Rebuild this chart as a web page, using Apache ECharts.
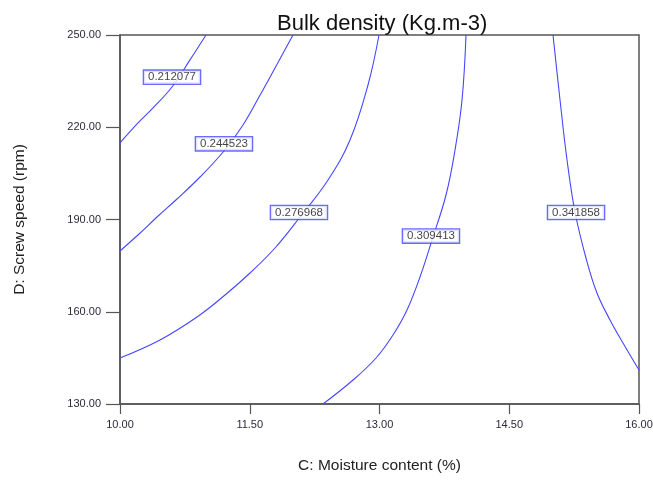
<!DOCTYPE html>
<html>
<head>
<meta charset="utf-8">
<script src="https://cdn.jsdelivr.net/npm/echarts@6/dist/echarts.min.js"></script>
<style>html,body{margin:0;padding:0;background:#fff;overflow:hidden}#c{width:653px;height:488px}</style>
</head>
<body>
<div id="c"></div>
<script>
const titleText = 'Bulk density (Kg.m-3)';
const xName = 'C: Moisture content (%)';
const yName = 'D: Screw speed (rpm)';
const xTicks = [10, 11.5, 13, 14.5, 16];
const yTicks = [130, 160, 190, 220, 250];

const levels = ['0.212077', '0.244523', '0.276968', '0.309413', '0.341858'];

const contour1 = [[10.994,250],[10.809,241.9],[10.601,233.1],[10.382,226.3],[10.208,221.4],[10,214.9]];
const contour2 = [[12.0,250],[11.792,239.27],[11.607,229.84],[11.422,220.73],[11.202,212.28],[10.925,203.82],[10.659,196.67],[10.428,190.81],[10.220,185.28],[10,179.76]];
const contour3 = [[12.994,250],[12.867,233.74],[12.659,215.85],[12.405,202.85],[12.081,190.81],[11.792,180.73],[11.503,172.60],[11.214,165.45],[10.890,158.29],[10.462,150.81],[10,144.96]];
const contour4 = [[14.0,250],[13.954,228.86],[13.873,212.60],[13.769,197.97],[13.607,183.33],[13.468,171.30],[13.318,160.57],[13.156,152.44],[12.960,144.96],[12.694,137.80],[12.347,130]];
const contour5 = [[15.006,250],[15.087,228.86],[15.168,209.35],[15.260,192.44],[15.387,177.48],[15.514,166.10],[15.665,157.32],[15.815,149.84],[16.0,141.06]];

const labelX = [10.601, 11.202, 12.069, 13.595, 15.272];
const labelY = [236.3, 214.6, 192.3, 184.6, 192.3];

const contours = [contour1, contour2, contour3, contour4, contour5];
const lineColor = '#4646ff';
const axisColor = '#555';
const tickFont = {fontFamily: 'Liberation Sans, Arial, sans-serif', fontSize: 11, color: '#2a2a3a'};

const series = contours.map((c, i) => ({
  type: 'line', name: levels[i], data: c, smooth: 0.4, showSymbol: false, silent: true,
  lineStyle: {color: lineColor, width: 1.1}, z: 2
}));
series.push({
  type: 'scatter', symbolSize: 0, z: 5, silent: true,
  data: levels.map((l, i) => [labelX[i], labelY[i], l]),
  label: {
    show: true, position: 'inside', formatter: p => p.data[2],
    fontFamily: 'Liberation Sans, Arial, sans-serif', fontSize: 11.5, color: '#111',
    backgroundColor: '#fff', borderColor: lineColor, borderWidth: 1.3, padding: [1, 4, 0, 4]
  }
});

const chart = echarts.init(document.getElementById('c'), null, {renderer: 'canvas', width: 653, height: 488});
chart.setOption({
  animation: false,
  backgroundColor: '#fff',
  title: {
    text: titleText, left: 272, top: 8,
    textStyle: {fontFamily: 'Liberation Sans, Arial, sans-serif', fontSize: 22, fontWeight: 'normal', color: '#111'}
  },
  grid: {left: 120, right: 14, top: 35, bottom: 84, containLabel: false, outerBoundsMode: 'none',
         show: true, borderColor: axisColor, borderWidth: 1.5, backgroundColor: 'transparent'},
  xAxis: {
    type: 'value', min: 10, max: 16,
    name: xName, nameLocation: 'middle', nameGap: 54,
    nameTextStyle: {fontFamily: 'Liberation Sans, Arial, sans-serif', fontSize: 15.5, color: '#222'},
    axisLine: {show: true, lineStyle: {color: axisColor, width: 1.5}},
    axisTick: {show: true, length: 10, customValues: xTicks, lineStyle: {color: axisColor, width: 1.2}},
    axisLabel: Object.assign({customValues: xTicks, margin: 15, formatter: v => Number(v).toFixed(2)}, tickFont),
    splitLine: {show: false}
  },
  yAxis: {
    type: 'value', min: 130, max: 250,
    name: yName, nameLocation: 'middle', nameGap: 92, nameRotate: 90,
    nameTextStyle: {fontFamily: 'Liberation Sans, Arial, sans-serif', fontSize: 15.5, color: '#222'},
    axisLine: {show: true, lineStyle: {color: axisColor, width: 1.5}},
    axisTick: {show: true, length: 14, customValues: yTicks, lineStyle: {color: axisColor, width: 1.2}},
    axisLabel: Object.assign({customValues: yTicks, margin: 19, formatter: v => Number(v).toFixed(2)}, tickFont),
    splitLine: {show: false}
  },
  series: series
});
</script>
</body>
</html>
